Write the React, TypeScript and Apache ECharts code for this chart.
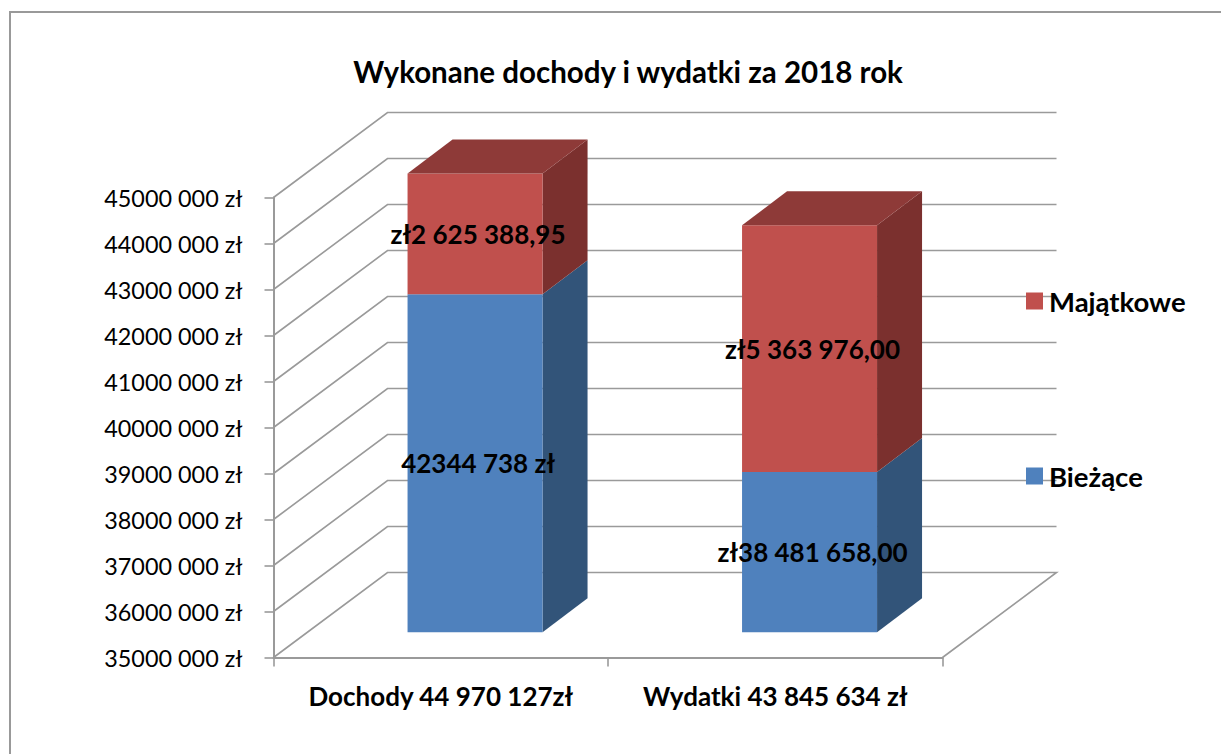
import React, { useEffect, useRef } from "react";
import * as echarts from "echarts";

const FONT = "Lato";
const categories = ["Dochody 44 970 127zł", "Wydatki 43 845 634 zł"];
const biezace = [42344738, 38481658];
const majatkowe = [2625388.95, 5363976];
const biezaceLabels = ["42344 738 zł", "zł38 481 658,00"];
const majatkoweLabels = ["zł2 625 388,95", "zł5 363 976,00"];
const yTicks = [35000000, 36000000, 37000000, 38000000, 39000000, 40000000, 41000000, 42000000, 43000000, 44000000, 45000000];
const yTickLabels = ["35000 000 zł", "36000 000 zł", "37000 000 zł", "38000 000 zł", "39000 000 zł", "40000 000 zł", "41000 000 zł", "42000 000 zł", "43000 000 zł", "44000 000 zł", "45000 000 zł"];

const GRID = "#9a9a9a";
const WALL_DX = 114;
const WALL_DY = -85;
const BAR_OFFSET_X = 34.3;
const BAR_OFFSET_Y = -25.3;
const BAR_WIDTH = 135;
const SIDE_DX = 45;
const SIDE_DY = -34;

function wallItem(params: any, api: any) {
  const cs = params.coordSys;
  const y = api.coord([0, api.value(1)])[1];
  const isFloor = params.dataIndex === 0;
  const points: number[][] = [
    [cs.x, y],
    [cs.x + WALL_DX, y + WALL_DY],
    [cs.x + cs.width + WALL_DX, y + WALL_DY],
  ];
  if (isFloor) points.push([cs.x + cs.width, y]);
  return {
    type: "polyline",
    shape: { points },
    style: { stroke: GRID, lineWidth: 1.6, fill: null },
  };
}

function barRenderer(front: string, side: string, top: string | null, labels: string[]) {
  return (params: any, api: any) => {
    const idx = api.value(0);
    const a = api.coord([idx, api.value(1)]);
    const b = api.coord([idx, api.value(2)]);
    const cx = a[0] + BAR_OFFSET_X;
    const l = cx - BAR_WIDTH / 2;
    const r = cx + BAR_WIDTH / 2;
    const y0 = a[1] + BAR_OFFSET_Y;
    const y1 = b[1] + BAR_OFFSET_Y;
    const children: any[] = [
      {
        type: "polygon",
        shape: { points: [[r, y0], [r + SIDE_DX, y0 + SIDE_DY], [r + SIDE_DX, y1 + SIDE_DY], [r, y1]] },
        style: { fill: side },
      },
      {
        type: "polygon",
        shape: { points: [[l, y0], [r, y0], [r, y1], [l, y1]] },
        style: { fill: front },
      },
    ];
    if (top) {
      children.push({
        type: "polygon",
        shape: { points: [[l, y1], [r, y1], [r + SIDE_DX, y1 + SIDE_DY], [l + SIDE_DX, y1 + SIDE_DY]] },
        style: { fill: top },
      });
    }
    children.push({
      type: "text",
      x: cx + 3,
      y: (y0 + y1) / 2,
      style: {
        text: labels[params.dataIndex],
        fill: "#000",
        font: `bold 26px ${FONT}`,
        align: "center",
        verticalAlign: "middle",
      },
    });
    return { type: "group", children };
  };
}

export default function App() {
  const ref = useRef<HTMLDivElement>(null);
  useEffect(() => {
    const chart = echarts.init(ref.current!, undefined, { renderer: "svg" });
    chart.setOption({
      animation: false,
      backgroundColor: "#fff",
      title: {
        text: "Wykonane dochody i wydatki za 2018 rok",
        left: 623,
        top: 51,
        textAlign: "center",
        textStyle: { fontFamily: FONT, fontWeight: "bold", fontSize: 29.5, color: "#000" },
      },
      legend: {
        orient: "vertical",
        left: 1021,
        top: 282,
        data: ["Majątkowe", "Bieżące"],
        icon: "rect",
        itemWidth: 17,
        itemHeight: 17,
        itemGap: 147,
        textStyle: { fontFamily: FONT, fontWeight: "bold", fontSize: 27.5, color: "#000", padding: [0, 0, 0, 1] },
      },
      grid: { left: 273.5, top: 197.5, width: 669, height: 460, containLabel: false },
      xAxis: {
        type: "category",
        data: categories,
        axisLine: { lineStyle: { color: GRID, width: 2 } },
        axisTick: { show: true, interval: 0, length: 9, lineStyle: { color: GRID, width: 1.6 } },
        axisLabel: { interval: 0, margin: 25, fontFamily: FONT, fontWeight: "bold", fontSize: 26, color: "#000" },
      },
      yAxis: {
        type: "value",
        min: 35000000,
        max: 45000000,
        interval: 1000000,
        splitLine: { show: false },
        axisLine: { show: true, lineStyle: { color: GRID, width: 2 } },
        axisTick: { show: true, length: 9, lineStyle: { color: GRID, width: 1.6 } },
        axisLabel: {
          margin: 31,
          fontFamily: FONT,
          fontSize: 23.4,
          color: "#000",
          formatter: (_v: number, i: number) => yTickLabels[i],
        },
      },
      graphic: [
        {
          type: "polyline",
          shape: { points: [[10, 754], [10, 12], [1221, 12]] },
          style: { stroke: "#999", lineWidth: 2, fill: null },
          silent: true,
        },
      ],
      series: [
        {
          type: "custom",
          name: "walls",
          renderItem: wallItem,
          data: yTicks.map((v) => [0, v]),
          encode: { x: 0, y: 1 },
          silent: true,
        },
        {
          type: "custom",
          name: "Bieżące",
          itemStyle: { color: "#4F81BD" },
          renderItem: barRenderer("#4F81BD", "#325479", null, biezaceLabels),
          data: biezace.map((v, i) => [i, 35000000, v]),
          encode: { x: 0, y: [1, 2] },
        },
        {
          type: "custom",
          name: "Majątkowe",
          itemStyle: { color: "#C0504D" },
          renderItem: barRenderer("#C0504D", "#7B302E", "#8E3A38", majatkoweLabels),
          data: majatkowe.map((v, i) => [i, biezace[i], biezace[i] + v]),
          encode: { x: 0, y: [1, 2] },
        },
      ],
    });
    return () => chart.dispose();
  }, []);
  return <div ref={ref} style={{ position: "absolute", left: 0, top: 0, width: 1221, height: 754 }} />;
}
